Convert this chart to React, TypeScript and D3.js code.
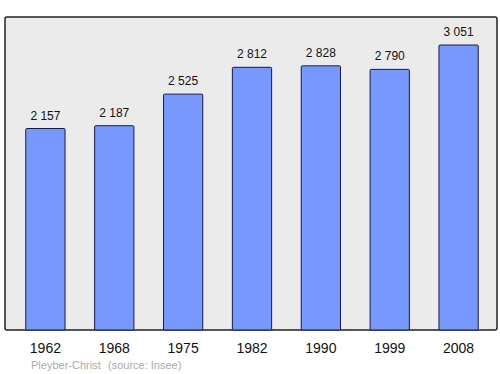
import React from "react";
import * as d3 from "d3";

const years = ["1962", "1968", "1975", "1982", "1990", "1999", "2008"];
const population = [2157, 2187, 2525, 2812, 2828, 2790, 3051];
const labels = ["2 157", "2 187", "2 525", "2 812", "2 828", "2 790", "3 051"];

export default function App() {
  const W = 500, H = 374;
  const left = 5, right = 497, top = 17, bottom = 330;
  const x = d3.scaleBand().domain(years).range([12, 492]).paddingInner(0.43).paddingOuter(0.2);
  const y = d3.scaleLinear().domain([0, 3051]).range([bottom, 45]);
  return (
    <svg width={W} height={H} style={{ position: "absolute", left: 0, top: 0 }} fontFamily="Liberation Sans, Arial, sans-serif">
      <rect x={left} y={top} width={right - left} height={bottom - top} fill="#ebebeb" stroke="#222" strokeWidth={1.5} rx={2} />
      {years.map((yr, i) => (
        <g key={yr}>
          <rect x={x(yr)} y={y(population[i])} width={x.bandwidth()} height={bottom - y(population[i])} fill="#7799ff" stroke="#1a1a40" strokeWidth={1} rx={1} />
          <text x={x(yr)! + x.bandwidth() / 2} y={y(population[i]) - 9} textAnchor="middle" fontSize={12} fill="#111">{labels[i]}</text>
          <text x={x(yr)! + x.bandwidth() / 2} y={353} textAnchor="middle" fontSize={14} fill="#111">{yr}</text>
        </g>
      ))}
      <text x={31} y={369} fontSize={11} fill="#aaa">Pleyber-Christ</text>
      <text x={108} y={369} fontSize={11} fill="#aaa">(source: Insee)</text>
    </svg>
  );
}
